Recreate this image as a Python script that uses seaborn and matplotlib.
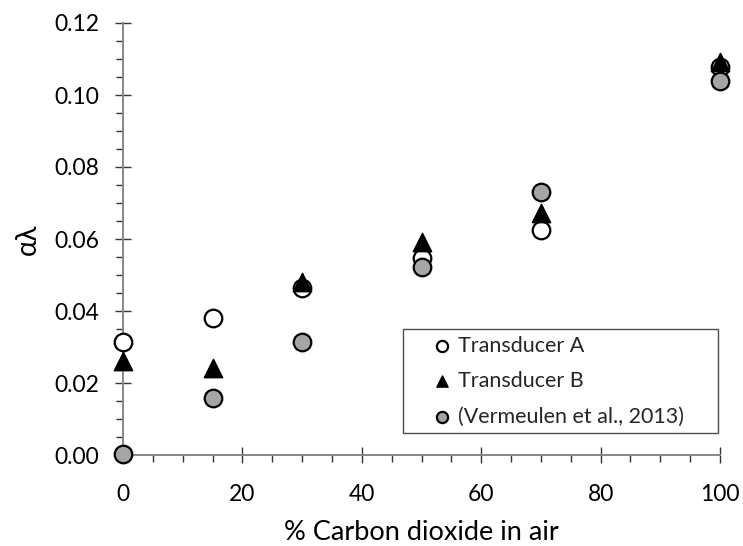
import matplotlib
matplotlib.use("Agg")
import matplotlib.pyplot as plt
import seaborn as sns
import pandas as pd
from matplotlib.ticker import MultipleLocator, FormatStrFormatter

# CO2 concentration in air (%)
co2 = [0, 15, 30, 50, 70, 100]

# attenuation per wavelength (alpha * lambda)
transducer_a = [0.0314, 0.0380, 0.0464, 0.0547, 0.0625, 0.1078]
transducer_b = [0.0261, 0.0242, 0.0480, 0.0592, 0.0672, 0.1092]
vermeulen = [0.0002, 0.0157, 0.0314, 0.0522, 0.0731, 0.1038]

labels = ["Transducer A", "Transducer B", "(Vermeulen et al., 2013)"]
x_label = "% Carbon dioxide in air"
y_label = "\u03b1\u03bb"

sns.set_theme(style="white")
plt.rcParams["font.family"] = ["Lato", "DejaVu Sans"]

fig = plt.figure(figsize=(7.43, 5.46), dpi=100)
ax = fig.add_axes([123 / 743, 1 - 455 / 546, 597 / 743, 432 / 546])

df_a = pd.DataFrame({"x": co2, "y": transducer_a})
df_b = pd.DataFrame({"x": co2, "y": transducer_b})
df_v = pd.DataFrame({"x": co2, "y": vermeulen})

sns.scatterplot(data=df_a, x="x", y="y", ax=ax, marker="o", s=160,
                facecolor="white", edgecolor="black", linewidth=1.6,
                label=labels[0], clip_on=False, zorder=3)
sns.scatterplot(data=df_b, x="x", y="y", ax=ax, marker="^", s=175,
                facecolor="black", edgecolor="black", linewidth=1.0,
                label=labels[1], clip_on=False, zorder=4)
sns.scatterplot(data=df_v, x="x", y="y", ax=ax, marker="o", s=160,
                facecolor="#a5a5a5", edgecolor="black", linewidth=1.6,
                label=labels[2], clip_on=False, zorder=5)

ax.set_xlim(0, 100)
ax.set_ylim(0, 0.12)
ax.xaxis.set_major_locator(MultipleLocator(20))
ax.xaxis.set_minor_locator(MultipleLocator(5))
ax.yaxis.set_major_locator(MultipleLocator(0.02))
ax.yaxis.set_minor_locator(MultipleLocator(0.005))
ax.yaxis.set_major_formatter(FormatStrFormatter("%.2f"))

for side in ("top", "right"):
    ax.spines[side].set_visible(False)
for side in ("left", "bottom"):
    ax.spines[side].set_color("#878787")
    ax.spines[side].set_linewidth(1.4)

ax.tick_params(which="major", direction="inout", length=12, width=1.0,
               color="#333333", labelsize=16.5, labelcolor="black")
ax.tick_params(axis="y", which="major", pad=11)
ax.tick_params(axis="x", which="major", pad=15)
ax.tick_params(which="minor", direction="out", length=5, width=1.0,
               color="#333333")
ax.tick_params(bottom=True, left=True, which="both")

ax.set_xlabel(x_label, fontsize=19.5, labelpad=11, color="black")
ax.set_ylabel(y_label, fontsize=20, labelpad=10, color="black")

leg = ax.legend(loc="lower left", bbox_to_anchor=(0.469, 0.051, 0.528, 0.25),
                mode="expand", fontsize=15.5, frameon=True, fancybox=False,
                borderpad=0.3, labelspacing=0.72, handlelength=3.0,
                handletextpad=-0.75, borderaxespad=0.0, scatterpoints=1)
leg.get_frame().set_edgecolor("#222222")
leg.get_frame().set_linewidth(1.0)
for h in leg.legend_handles:
    h.set_sizes([65])

fig.savefig("out.png", dpi=100)
